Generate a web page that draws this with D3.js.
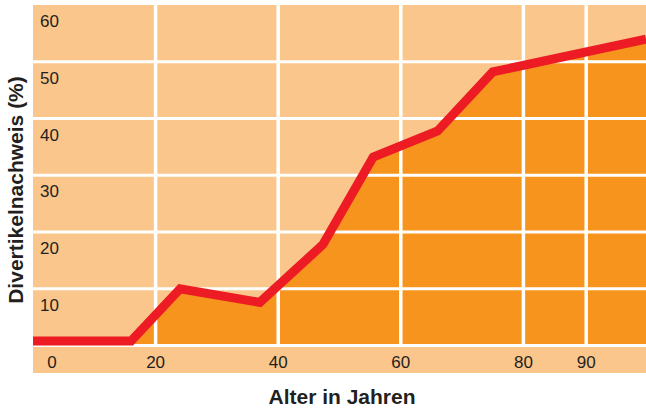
<!DOCTYPE html>
<html><head><meta charset="utf-8">
<script src="https://cdn.jsdelivr.net/npm/d3@7"></script>
<style>html,body{margin:0;padding:0;background:#fff;}svg{display:block;}</style>
</head><body>
<script>
const ages = [0, 16, 24, 37, 47.3, 55.5, 66, 75, 100];
const shares = [0.8, 0.8, 10.0, 7.6, 17.8, 33.2, 37.8, 48.2, 54.0];
const yTicks = [10, 20, 30, 40, 50, 60];
const yGrid = [0, 10, 20, 30, 40, 50];
const xTicks = [0, 20, 40, 60, 80, 90];
const xGrid = [20, 40, 60, 80, 90];
const xTitle = "Alter in Jahren";
const yTitle = "Divertikelnachweis (%)";

const W = 646, H = 409;
const pLeft = 33, pRight = 646, pTop = 5, pBottom = 345.5, stripBottom = 373;
const light = "#FBC68B", dark = "#F7941D", red = "#ED1C24", ink = "#231F20";
const font = "'Liberation Sans', Arial, Helvetica, sans-serif";

const svg = d3.select("body").append("svg").attr("width", W).attr("height", H);
const x = d3.scaleLinear().domain([0, 100]).range([pLeft, pRight]);
const y = d3.scaleLinear().domain([0, 60]).range([pBottom, pTop]);

svg.append("rect").attr("x", pLeft).attr("y", pTop)
  .attr("width", pRight - pLeft).attr("height", stripBottom - pTop).attr("fill", light);

const data = ages.map((a, i) => ({a, v: shares[i]}));
svg.append("path").datum(data)
  .attr("d", d3.area().x(d => x(d.a)).y0(y(0)).y1(d => y(d.v)))
  .attr("fill", dark);

// grid
svg.append("g").selectAll("line").data(yGrid).join("line")
  .attr("x1", pLeft).attr("x2", pRight)
  .attr("y1", d => y(d)).attr("y2", d => y(d))
  .attr("stroke", "#fff").attr("stroke-width", 3);
svg.append("g").selectAll("line").data(xGrid).join("line")
  .attr("x1", d => x(d) + (d === 90 ? 1.5 : 0)).attr("x2", d => x(d) + (d === 90 ? 1.5 : 0))
  .attr("y1", pTop).attr("y2", y(0))
  .attr("stroke", "#fff").attr("stroke-width", 3.5);

// line
svg.append("path").datum(data)
  .attr("d", d3.line().x(d => x(d.a)).y(d => y(d.v)))
  .attr("fill", "none").attr("stroke", red).attr("stroke-width", 9)
  .attr("stroke-linejoin", "miter").attr("stroke-linecap", "butt");

// y tick labels
svg.append("g").selectAll("text").data(yTicks).join("text")
  .attr("x", pLeft + 7).attr("y", d => y(d) + 22)
  .attr("font-family", font).attr("font-size", 17).attr("fill", ink)
  .text(d => d);

// x tick labels
svg.append("g").selectAll("text").data(xTicks).join("text")
  .attr("x", d => d === 0 ? x(d) + 19 : x(d) + (d === 90 ? 1.5 : 0))
  .attr("y", 368)
  .attr("text-anchor", "middle")
  .attr("font-family", font).attr("font-size", 17).attr("fill", ink)
  .text(d => d);

// titles
svg.append("text").attr("x", 342).attr("y", 404).attr("text-anchor", "middle")
  .attr("font-family", font).attr("font-size", 21).attr("font-weight", "bold").attr("fill", ink)
  .text(xTitle);
svg.append("text").attr("transform", "translate(22.5,190) rotate(-90)")
  .attr("text-anchor", "middle")
  .attr("font-family", font).attr("font-size", 21).attr("font-weight", "bold").attr("fill", ink)
  .text(yTitle);
</script>
</body></html>
